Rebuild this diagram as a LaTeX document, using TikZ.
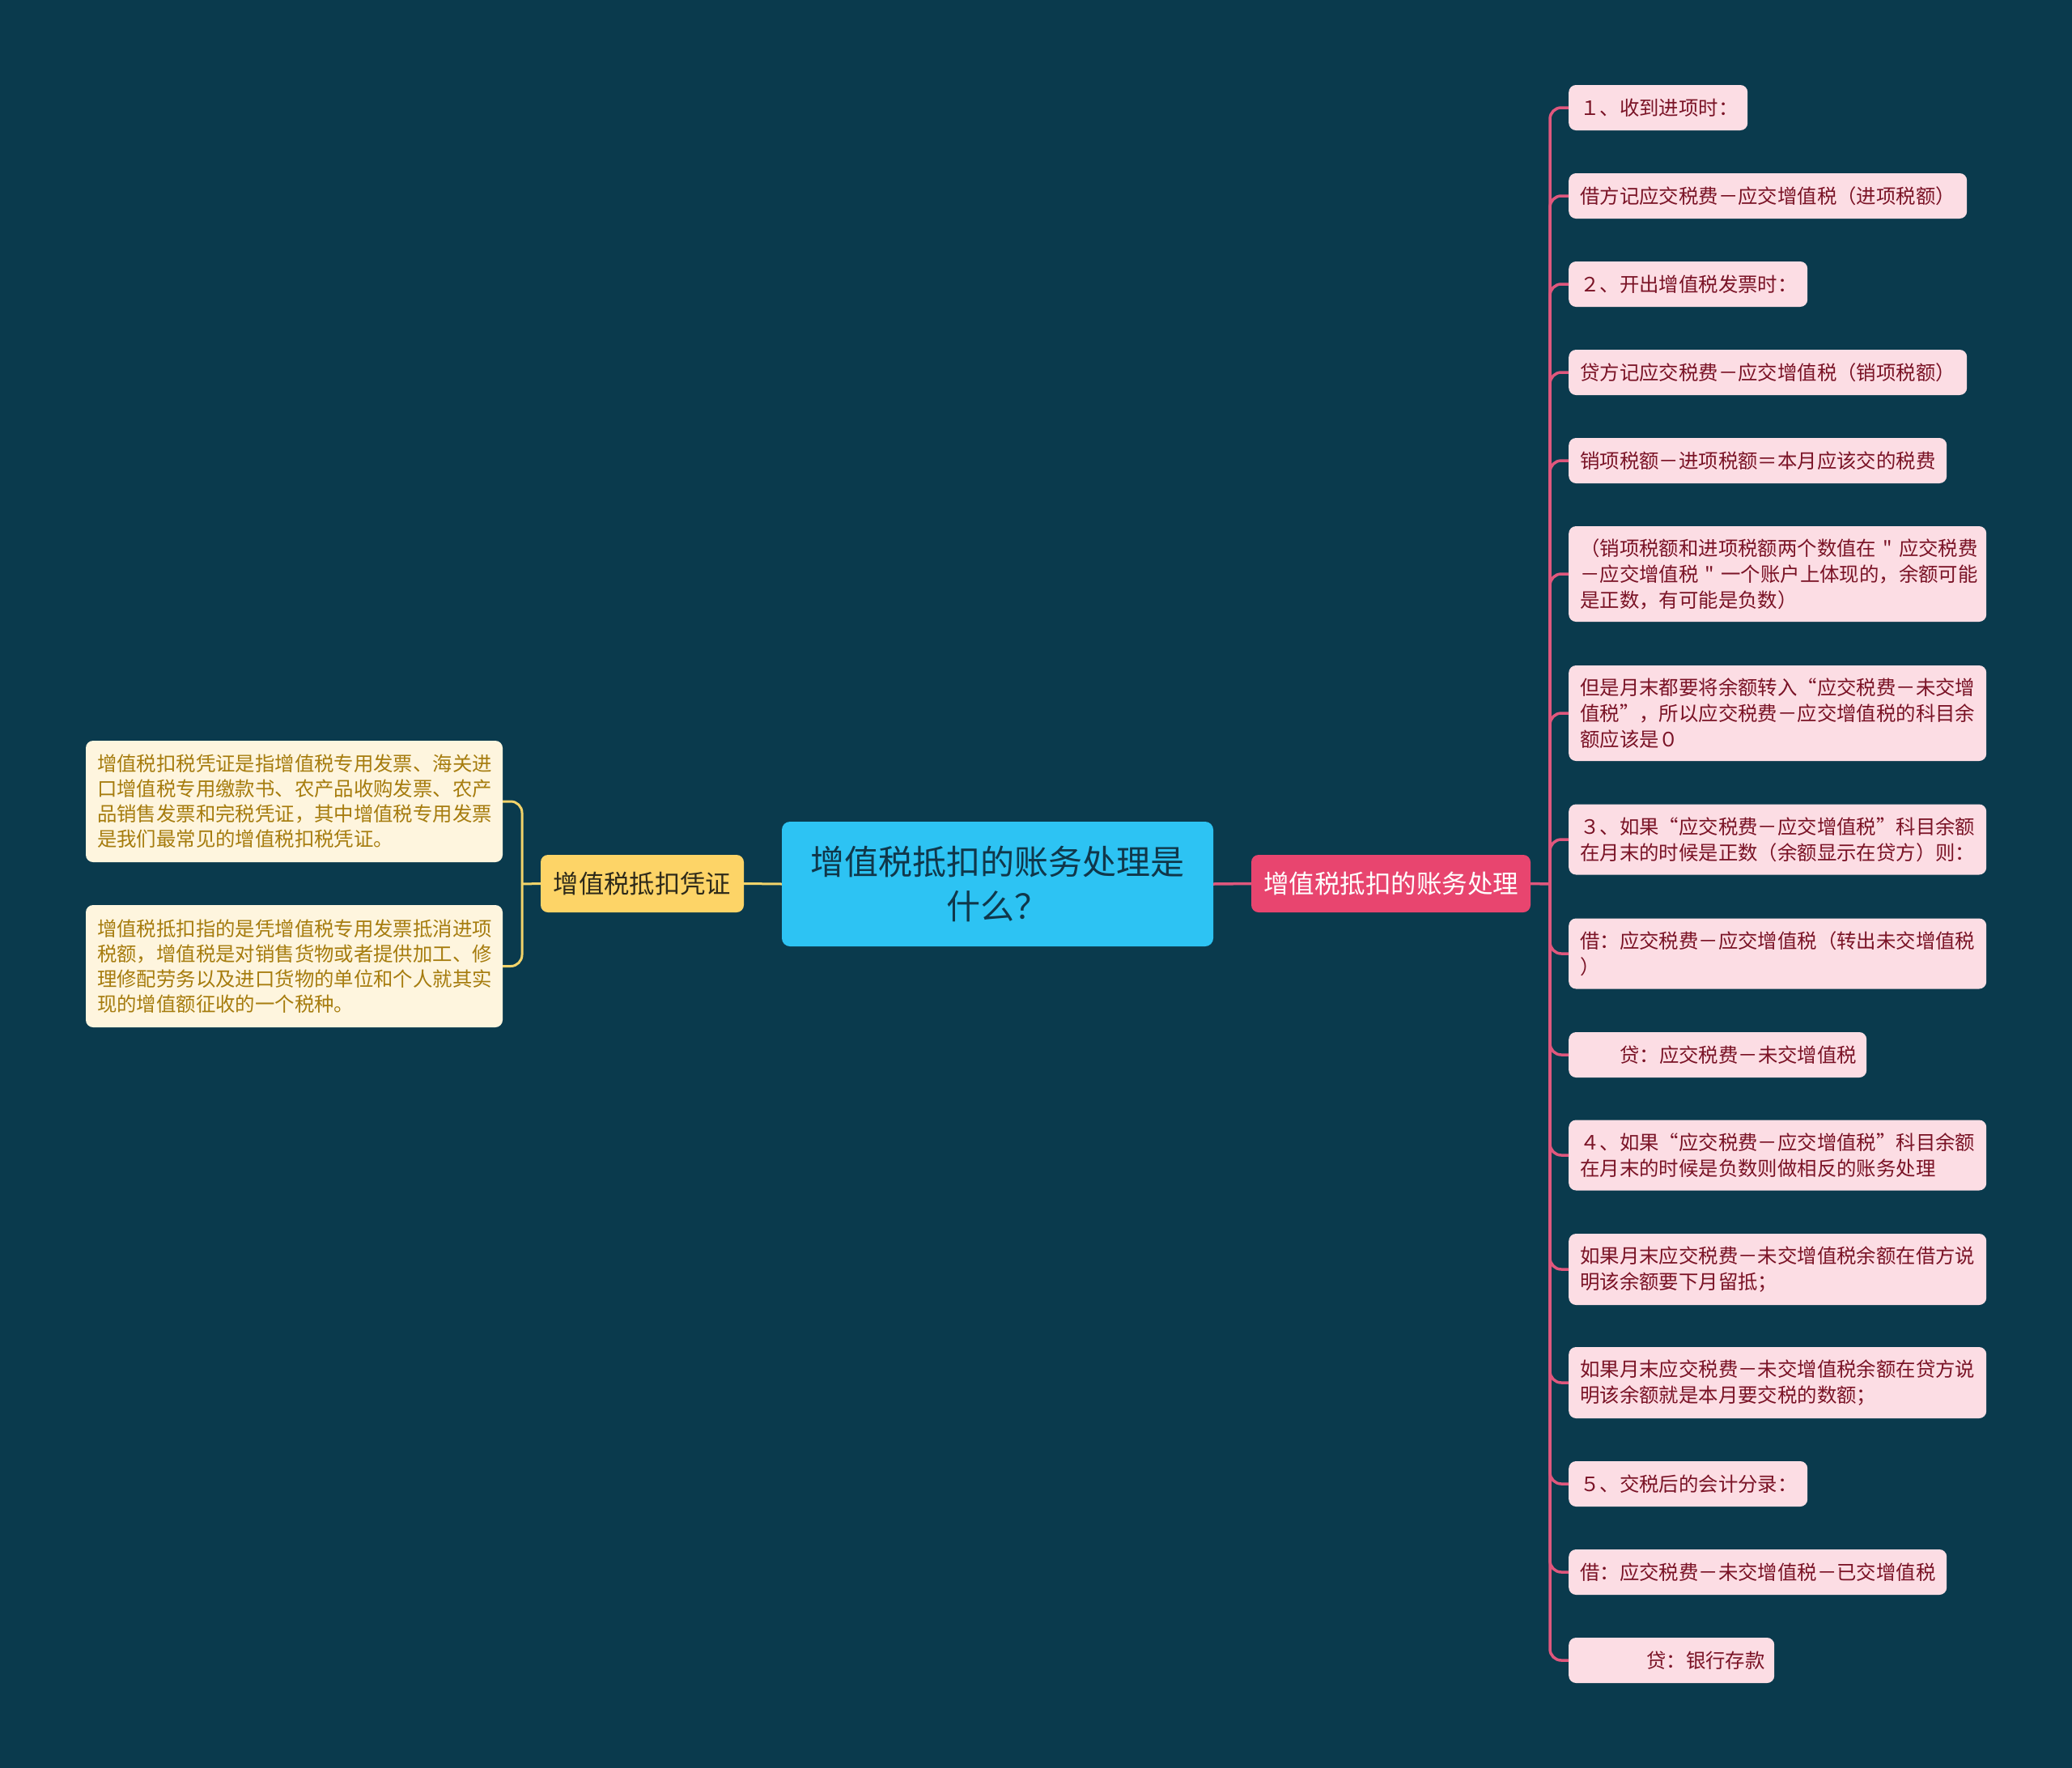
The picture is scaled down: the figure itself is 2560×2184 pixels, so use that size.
\documentclass[tikz,border=0pt]{standalone}
\usepackage{fontspec}
\setmainfont{Noto Sans CJK SC}[Ligatures=TeXOff]
\definecolor{bgc}{HTML}{0A3A4D}
\definecolor{centralc}{HTML}{2DC3F3}
\definecolor{centraltext}{HTML}{10374A}
\definecolor{rmainc}{HTML}{E8456F}
\definecolor{rlinec}{HTML}{E0577D}
\definecolor{rleaffill}{HTML}{FCDDE4}
\definecolor{rleaftext}{HTML}{7A1326}
\definecolor{lmainc}{HTML}{FDD467}
\definecolor{lmaintext}{HTML}{2E2A1A}
\definecolor{llinec}{HTML}{F2D36A}
\definecolor{lleaffill}{HTML}{FEF5DE}
\definecolor{lleaftext}{HTML}{A67C0E}
\begin{document}
\begin{tikzpicture}[x=1pt,y=-1pt,
  central/.style={fill=centralc, rounded corners=10pt, text=centraltext, align=center,
    minimum width=533pt, minimum height=154pt, inner sep=0pt,
    font=\fontsize{42}{55}\selectfont},
  rmain/.style={fill=rmainc, rounded corners=9pt, text=white,
    minimum width=345pt, minimum height=71pt, inner sep=0pt,
    font=\fontsize{31.5}{40}\selectfont},
  lmain/.style={fill=lmainc, rounded corners=9pt, text=lmaintext,
    minimum width=251pt, minimum height=71pt, inner sep=0pt,
    font=\fontsize{31.3}{40}\selectfont},
  rleaf/.style={fill=rleaffill, rounded corners=9pt, text=rleaftext, anchor=west,
    align=left, inner xsep=14pt, inner ysep=0pt,
    font=\fontsize{24.4}{32}\selectfont},
  lleaf/.style={fill=lleaffill, rounded corners=9pt, text=lleaftext,
    align=left, inner xsep=14pt, inner ysep=0pt, text width=487pt,
    font=\fontsize{24.4}{31}\selectfont},
  rline/.style={draw=rlinec, line width=3.5pt, rounded corners=14pt},
  lline/.style={draw=llinec, line width=3pt, rounded corners=14pt}
]
\fill[bgc] (0,0) rectangle (2560,2184);
\useasboundingbox (0,0) rectangle (2560,2184);

% central and main branches
\node[central] (c) at (1232.5,1092) {增值税抵扣的账务处理是\\什么？};
\node[rmain] (rm) at (1718.5,1091.5) {增值税抵扣的账务处理};
\node[lmain] (lm) at (793.5,1091.5) {增值税抵扣凭证};

% right leaves
\node[rleaf, text width=193pt, minimum height=56pt] (r1) at (1938,133) {１、收到进项时：};
\node[rleaf, text width=464pt, minimum height=56pt] (r2) at (1938,242) {借方记应交税费－应交增值税（进项税额）};
\node[rleaf, text width=267pt, minimum height=56pt] (r3) at (1938,351) {２、开出增值税发票时：};
\node[rleaf, text width=464pt, minimum height=56pt] (r4) at (1938,460) {贷方记应交税费－应交增值税（销项税额）};
\node[rleaf, text width=439pt, minimum height=56pt] (r5) at (1938,569) {销项税额－进项税额＝本月应该交的税费};
\node[rleaf, text width=488pt, minimum height=118pt] (r6) at (1938,709) {（销项税额和进项税额两个数值在~"~应交税费\\－应交增值税~"~一个账户上体现的，余额可能\\是正数，有可能是负数）};
\node[rleaf, text width=488pt, minimum height=118pt] (r7) at (1938,881) {但是月末都要将余额转入“应交税费－未交增\\值税”，所以应交税费－应交增值税的科目余\\额应该是０};
\node[rleaf, text width=488pt, minimum height=87pt] (r8) at (1938,1037) {３、如果“应交税费－应交增值税”科目余额\\在月末的时候是正数（余额显示在贷方）则：};
\node[rleaf, text width=488pt, minimum height=87pt] (r9) at (1938,1178) {借：应交税费－应交增值税（转出未交增值税\\）};
\node[rleaf, text width=340pt, minimum height=56pt] (r10) at (1938,1303) {\hspace*{49pt}贷：应交税费－未交增值税};
\node[rleaf, text width=488pt, minimum height=87pt] (r11) at (1938,1427) {４、如果“应交税费－应交增值税”科目余额\\在月末的时候是负数则做相反的账务处理};
\node[rleaf, text width=488pt, minimum height=88pt] (r12) at (1938,1568) {如果月末应交税费－未交增值税余额在借方说\\明该余额要下月留抵；};
\node[rleaf, text width=488pt, minimum height=88pt] (r13) at (1938,1708) {如果月末应交税费－未交增值税余额在贷方说\\明该余额就是本月要交税的数额；};
\node[rleaf, text width=267pt, minimum height=56pt] (r14) at (1938,1833) {５、交税后的会计分录：};
\node[rleaf, text width=439pt, minimum height=56pt] (r15) at (1938,1942) {借：应交税费－未交增值税－已交增值税};
\node[rleaf, text width=226pt, minimum height=56pt] (r16) at (1938,2051) {\hspace*{82pt}贷：银行存款};

% left leaves
\node[lleaf, minimum height=150pt] (l1) at (363.5,990) {增值税扣税凭证是指增值税专用发票、海关进\\口增值税专用缴款书、农产品收购发票、农产\\品销售发票和完税凭证，其中增值税专用发票\\是我们最常见的增值税扣税凭证。};
\node[lleaf, minimum height=151pt] (l2) at (363.5,1193.5) {增值税抵扣指的是凭增值税专用发票抵消进项\\税额，增值税是对销售货物或者提供加工、修\\理修配劳务以及进口货物的单位和个人就其实\\现的增值额征收的一个税种。};

% junctions
\coordinate (rj) at (1915,1092);
\coordinate (lj) at (645,1092);

% connectors
\draw[rline] (c.east) -- (rm.west);
\draw[lline] (c.west) -- (lm.east);
\draw[rline] (rm.east) -- (rj);
\draw[lline] (lm.west) -- (lj);
\foreach \n in {r1,r2,r3,r4,r5,r6,r7,r8,r9,r10,r11,r12,r13,r14,r15,r16}
  \draw[rline] (rj) |- (\n.west);
\foreach \n in {l1,l2}
  \draw[lline] (lj) |- (\n.east);
\end{tikzpicture}
\end{document}
